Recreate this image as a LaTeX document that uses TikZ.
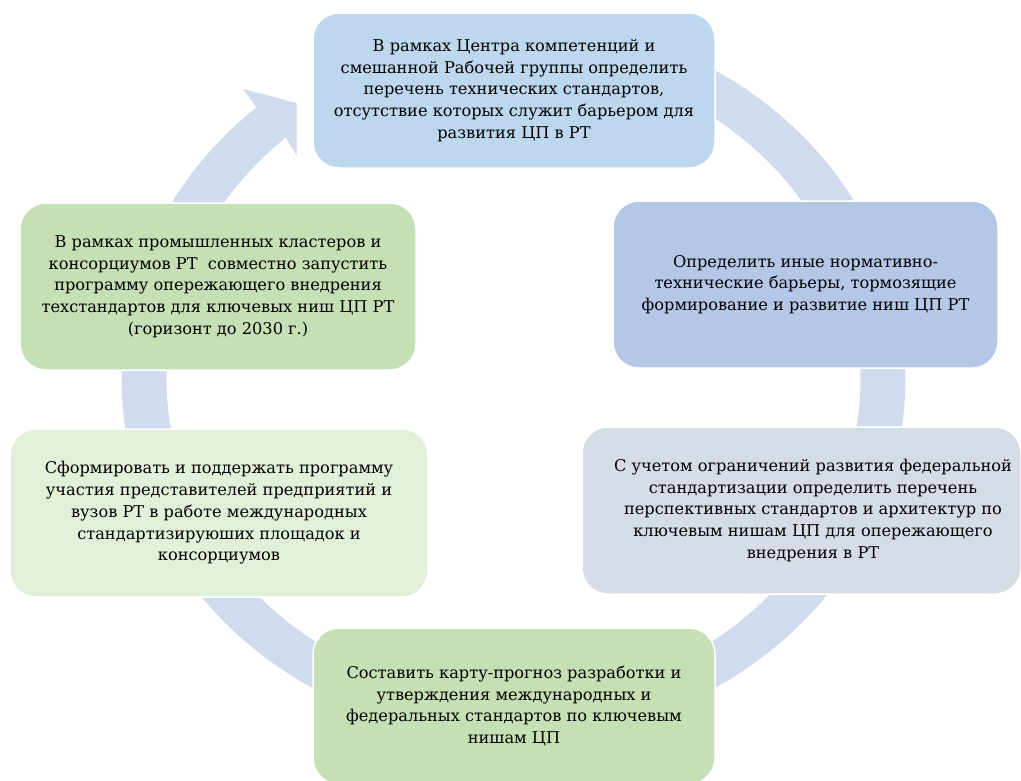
\documentclass[tikz,border=0pt]{standalone}
\usepackage{fontspec}
\setmainfont{DejaVu Serif}
\definecolor{ringc}{HTML}{D0DBEE}
\definecolor{cA}{HTML}{BDD7EE}
\definecolor{cB}{HTML}{B4C7E7}
\definecolor{cC}{HTML}{D6DCE5}
\definecolor{cD}{HTML}{C5E0B4}
\definecolor{cE}{HTML}{E2F0D9}
\begin{document}
\begin{tikzpicture}[x=1pt,y=-1pt,
  box/.style={draw=white, line width=1.5pt, rounded corners=26pt, inner sep=0pt,
    align=center, text=black, font=\fontsize{16.2}{21.7}\selectfont},
  txt/.style={inner sep=0pt, align=center, text=black, font=\fontsize{16.2}{21.7}\selectfont}]
\useasboundingbox (0,0) rectangle (1021,780);
\clip (0,0) rectangle (1021,780);

% circular arrow running clockwise behind the steps
\fill[ringc]
  plot[domain=-80:229, samples=140] ({513.5+392*cos(\x)},{379+360*sin(\x)})
  -- (243,89) -- (296.5,103) -- (296.5,155)
  -- plot[domain=229:-80, samples=140] ({513.5+347*cos(\x)},{379+320*sin(\x)})
  -- cycle;

% steps of the cycle
\node[box, fill=cA, minimum width=402pt, minimum height=155pt] (s1) at (514,90.5)
  {В рамках Центра компетенций и\\смешанной Рабочей группы определить\\перечень технических стандартов,\\отсутствие которых служит барьером для\\развития ЦП в РТ};

\node[box, fill=cB, minimum width=385pt, minimum height=167pt] (s2) at (805.5,284.5)
  {Определить иные нормативно-\\технические барьеры, тормозящие\\формирование и развитие ниш ЦП РТ};

\node[box, fill=cC, minimum width=439pt, minimum height=167pt] (s3) at (801.5,510.5)
  {};
\node[txt] (s3t) at (813,510.5)
  {С учетом ограничений развития федеральной\\стандартизации определить перечень\\перспективных стандартов и архитектур по\\ключевым нишам ЦП для опережающего\\внедрения в РТ};

\node[box, fill=cD, minimum width=402pt, minimum height=156pt] (s4) at (514,706)
  {Составить карту-прогноз разработки и\\утверждения международных и\\федеральных стандартов по ключевым\\нишам ЦП};

\node[box, fill=cE, minimum width=418pt, minimum height=168pt] (s5) at (219,513)
  {Сформировать и поддержать программу\\участия представителей предприятий и\\вузов РТ в работе международных\\стандартизируюших площадок и\\консорциумов};

\node[box, fill=cD, minimum width=396pt, minimum height=167pt] (s6) at (218,286.5)
  {В рамках промышленных кластеров и\\консорциумов РТ~ совместно запустить\\программу опережающего внедрения\\техстандартов для ключевых ниш ЦП РТ\\(горизонт до 2030 г.)};
\end{tikzpicture}
\end{document}
